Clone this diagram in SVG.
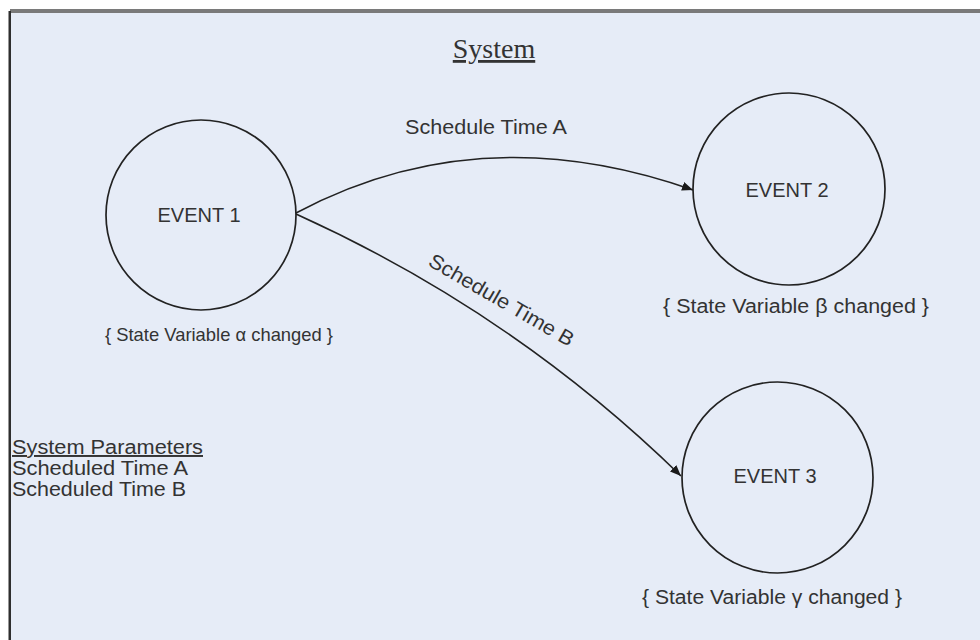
<svg xmlns="http://www.w3.org/2000/svg" width="980" height="640" viewBox="0 0 980 640">
  <style>
    .frame-bg { fill: #e6ecf7; }
    .node circle { fill: none; stroke: #222222; stroke-width: 1.7; }
    .label { font-family: "Liberation Sans", Arial, sans-serif; fill: #333333; }
    .edge { fill: none; stroke: #222222; stroke-width: 1.5; }
  </style>
  <defs>
    <marker id="arrow" markerUnits="userSpaceOnUse" markerWidth="12" markerHeight="10" refX="11" refY="4.5" orient="auto">
      <path d="M0,0 L11,4.5 L0,9 Z" fill="#1a1a1a"/>
    </marker>
  </defs>

  <!-- page and system frame -->
  <rect x="0" y="0" width="980" height="640" fill="#ffffff"/>
  <rect class="frame-bg" x="10" y="11" width="970" height="629"/>
  <rect x="10" y="9" width="970" height="4" fill="#7a7a7a"/>
  <rect x="8.5" y="11" width="2.5" height="629" fill="#2e2e2e"/>

  <!-- title -->
  <g id="title">
    <text x="494" y="58" text-anchor="middle" font-family="'Liberation Serif', 'Times New Roman', serif" font-size="28" fill="#333333" text-decoration="underline">System</text>
  </g>

  <!-- connectors -->
  <g id="connectors">
    <path class="edge" d="M296,213 Q480,115 693,190" marker-end="url(#arrow)"/>
    <path class="edge" d="M296,214 Q513,312 681,476" marker-end="url(#arrow)"/>
    <text class="label" x="486" y="134" text-anchor="middle" font-size="20.5" textLength="162" lengthAdjust="spacingAndGlyphs">Schedule Time A</text>
    <text class="label" transform="translate(498,306) rotate(30)" text-anchor="middle" font-size="20.5" textLength="164" lengthAdjust="spacingAndGlyphs">Schedule Time B</text>
  </g>

  <!-- events -->
  <g id="event1" class="node">
    <circle cx="201" cy="215" r="95"/>
    <text class="label" x="199" y="222" text-anchor="middle" font-size="20">EVENT 1</text>
    <text class="label" x="219" y="341" text-anchor="middle" font-size="19" textLength="228" lengthAdjust="spacingAndGlyphs">{ State Variable α changed }</text>
  </g>

  <g id="event2" class="node">
    <circle cx="789" cy="189" r="96"/>
    <text class="label" x="787" y="197" text-anchor="middle" font-size="20">EVENT 2</text>
    <text class="label" x="796" y="313" text-anchor="middle" font-size="20" textLength="266" lengthAdjust="spacingAndGlyphs">{ State Variable β changed }</text>
  </g>

  <g id="event3" class="node">
    <circle cx="777.5" cy="477.5" r="95.5"/>
    <text class="label" x="775" y="483" text-anchor="middle" font-size="20">EVENT 3</text>
    <text class="label" x="772" y="604" text-anchor="middle" font-size="20" textLength="260" lengthAdjust="spacingAndGlyphs">{ State Variable γ changed }</text>
  </g>

  <!-- parameter list -->
  <g id="parameters">
    <text class="label" x="12" y="454" font-size="19.5" text-decoration="underline" textLength="191" lengthAdjust="spacingAndGlyphs">System Parameters</text>
    <text class="label" x="12" y="475" font-size="19.5" textLength="176" lengthAdjust="spacingAndGlyphs">Scheduled Time A</text>
    <text class="label" x="12" y="496" font-size="19.5" textLength="174" lengthAdjust="spacingAndGlyphs">Scheduled Time B</text>
  </g>
</svg>
